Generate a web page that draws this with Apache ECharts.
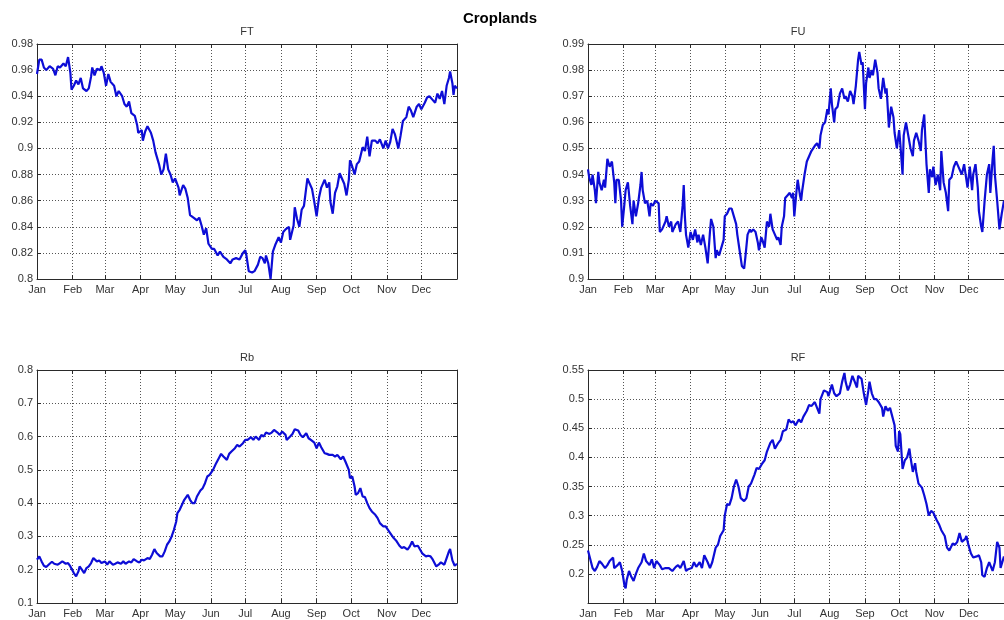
<!DOCTYPE html>
<html>
<head>
<meta charset="utf-8">
<script src="https://cdn.jsdelivr.net/npm/echarts@6/dist/echarts.min.js"></script>
<style>
html,body{margin:0;padding:0;background:#fff;}
#chart{width:1004px;height:620px;}
</style>
</head>
<body>
<div id="chart"></div>
<script>
var monthStarts = [0,31,59,90,120,151,181,212,243,273,304,334];
var monthNames = ['Jan','Feb','Mar','Apr','May','Jun','Jul','Aug','Sep','Oct','Nov','Dec'];
var panelTitles = ['FT','FU','Rb','RF'];

var ftData = [[0,0.957],[2,0.968],[4,0.968],[6,0.962],[8,0.960],[11,0.963],[14,0.961],[16,0.956],[18,0.963],[20,0.962],[23,0.965],[25,0.963],[27,0.970],[29,0.958],[30,0.945],[32,0.948],[34,0.952],[36,0.949],[38,0.954],[40,0.946],[43,0.944],[45,0.946],[47,0.955],[48,0.962],[50,0.956],[52,0.961],[55,0.960],[56,0.963],[58,0.958],[60,0.948],[62,0.957],[64,0.951],[67,0.948],[69,0.940],[71,0.944],[74,0.940],[76,0.934],[78,0.932],[80,0.936],[82,0.927],[85,0.925],[87,0.918],[88,0.912],[91,0.914],[92,0.906],[94,0.913],[96,0.917],[99,0.912],[101,0.906],[103,0.897],[106,0.888],[108,0.880],[110,0.884],[112,0.896],[114,0.884],[116,0.880],[118,0.874],[120,0.877],[123,0.870],[124,0.864],[127,0.872],[129,0.869],[131,0.862],[133,0.849],[136,0.847],[139,0.845],[141,0.847],[143,0.841],[145,0.834],[147,0.839],[149,0.827],[152,0.823],[154,0.823],[157,0.818],[159,0.821],[162,0.817],[165,0.815],[168,0.812],[170,0.815],[173,0.816],[176,0.815],[179,0.820],[181,0.822],[182,0.818],[184,0.806],[187,0.805],[189,0.806],[192,0.811],[194,0.817],[196,0.816],[198,0.812],[199,0.818],[201,0.812],[203,0.800],[205,0.821],[207,0.826],[210,0.832],[212,0.828],[214,0.836],[216,0.838],[219,0.840],[220,0.830],[223,0.841],[224,0.855],[226,0.846],[228,0.840],[230,0.853],[232,0.856],[235,0.877],[237,0.873],[239,0.869],[241,0.859],[243,0.848],[245,0.862],[247,0.870],[250,0.876],[252,0.870],[254,0.874],[255,0.859],[257,0.850],[259,0.866],[261,0.871],[263,0.881],[265,0.877],[267,0.873],[269,0.864],[271,0.876],[272,0.891],[274,0.886],[276,0.880],[278,0.888],[280,0.890],[283,0.901],[285,0.898],[287,0.909],[289,0.894],[291,0.906],[294,0.906],[296,0.904],[298,0.907],[301,0.900],[303,0.906],[305,0.900],[307,0.905],[309,0.915],[311,0.911],[314,0.900],[316,0.910],[318,0.921],[321,0.924],[323,0.932],[325,0.929],[327,0.924],[330,0.932],[332,0.934],[334,0.930],[337,0.935],[339,0.939],[341,0.940],[344,0.937],[346,0.935],[348,0.942],[350,0.938],[352,0.944],[354,0.934],[356,0.948],[358,0.954],[359,0.959],[361,0.950],[362,0.941],[363,0.948],[365,0.946]];

var fuData = [[0,0.942],[1,0.939],[3,0.936],[4,0.940],[6,0.934],[7,0.929],[9,0.941],[10,0.937],[12,0.934],[14,0.938],[15,0.935],[17,0.946],[19,0.943],[21,0.945],[23,0.937],[24,0.929],[25,0.938],[27,0.938],[29,0.930],[30,0.920],[32,0.929],[33,0.934],[35,0.937],[37,0.928],[39,0.921],[40,0.930],[42,0.924],[44,0.929],[46,0.936],[47,0.941],[48,0.934],[50,0.929],[52,0.930],[54,0.924],[55,0.929],[57,0.928],[59,0.930],[62,0.929],[63,0.918],[65,0.919],[68,0.922],[69,0.924],[71,0.920],[73,0.922],[74,0.918],[77,0.921],[79,0.922],[81,0.918],[83,0.928],[84,0.936],[85,0.924],[86,0.917],[88,0.912],[90,0.918],[92,0.915],[94,0.919],[96,0.914],[97,0.917],[99,0.913],[101,0.917],[103,0.912],[105,0.906],[107,0.918],[108,0.923],[110,0.920],[112,0.908],[113,0.911],[115,0.909],[117,0.912],[119,0.915],[120,0.924],[122,0.925],[124,0.927],[126,0.927],[128,0.924],[130,0.921],[131,0.917],[133,0.911],[135,0.905],[137,0.904],[138,0.908],[140,0.917],[142,0.919],[143,0.918],[145,0.919],[147,0.918],[149,0.914],[150,0.911],[152,0.916],[153,0.915],[155,0.912],[157,0.922],[159,0.920],[160,0.925],[162,0.919],[164,0.917],[166,0.915],[167,0.916],[169,0.913],[170,0.920],[172,0.924],[173,0.931],[175,0.932],[177,0.933],[179,0.931],[180,0.933],[181,0.924],[183,0.934],[184,0.938],[186,0.932],[187,0.930],[188,0.934],[190,0.940],[192,0.945],[194,0.947],[196,0.949],[199,0.951],[201,0.952],[203,0.950],[204,0.955],[206,0.959],[208,0.960],[210,0.965],[211,0.963],[213,0.973],[214,0.967],[216,0.960],[217,0.965],[219,0.966],[221,0.971],[223,0.973],[225,0.969],[226,0.970],[228,0.968],[230,0.972],[232,0.970],[233,0.967],[235,0.974],[237,0.984],[238,0.987],[240,0.982],[241,0.983],[243,0.965],[244,0.975],[246,0.981],[247,0.977],[249,0.980],[250,0.978],[252,0.984],[254,0.979],[255,0.973],[257,0.969],[259,0.977],[261,0.971],[262,0.973],[264,0.958],[266,0.966],[268,0.962],[269,0.956],[271,0.950],[273,0.957],[274,0.952],[276,0.940],[277,0.955],[279,0.960],[281,0.955],[283,0.950],[285,0.947],[286,0.953],[288,0.956],[290,0.953],[292,0.949],[293,0.957],[295,0.963],[297,0.944],[299,0.933],[300,0.942],[302,0.939],[303,0.943],[305,0.936],[307,0.940],[309,0.934],[310,0.949],[312,0.937],[314,0.933],[316,0.926],[317,0.938],[319,0.939],[321,0.943],[323,0.945],[324,0.944],[326,0.942],[328,0.940],[330,0.944],[331,0.941],[333,0.935],[335,0.943],[337,0.934],[338,0.940],[340,0.944],[342,0.935],[343,0.926],[345,0.920],[346,0.918],[348,0.930],[350,0.940],[352,0.944],[353,0.933],[355,0.946],[356,0.951],[357,0.940],[359,0.930],[361,0.919],[363,0.925],[365,0.930]];

var rbData = [[0,0.230],[2,0.240],[4,0.225],[6,0.212],[8,0.208],[11,0.218],[13,0.224],[15,0.218],[18,0.215],[20,0.220],[22,0.225],[25,0.218],[27,0.220],[29,0.210],[30,0.215],[32,0.190],[34,0.180],[36,0.195],[37,0.210],[39,0.200],[41,0.190],[43,0.205],[45,0.210],[47,0.220],[49,0.235],[52,0.225],[54,0.228],[56,0.220],[59,0.225],[61,0.215],[63,0.225],[66,0.215],[68,0.218],[70,0.222],[73,0.218],[75,0.225],[77,0.218],[80,0.225],[82,0.222],[84,0.232],[87,0.225],[89,0.222],[91,0.230],[93,0.228],[96,0.235],[98,0.232],[100,0.245],[102,0.262],[104,0.250],[107,0.240],[109,0.240],[111,0.255],[113,0.275],[115,0.285],[117,0.300],[119,0.320],[121,0.345],[122,0.370],[124,0.380],[126,0.395],[128,0.410],[131,0.425],[133,0.410],[135,0.400],[137,0.400],[139,0.420],[142,0.438],[144,0.445],[146,0.460],[148,0.480],[150,0.485],[153,0.500],[155,0.515],[158,0.535],[160,0.548],[162,0.540],[165,0.530],[167,0.548],[169,0.555],[172,0.565],[174,0.575],[176,0.570],[179,0.580],[181,0.590],[183,0.590],[186,0.598],[188,0.590],[190,0.600],[193,0.590],[195,0.605],[197,0.600],[199,0.612],[202,0.608],[204,0.612],[206,0.620],[209,0.612],[211,0.605],[213,0.615],[216,0.605],[217,0.590],[220,0.600],[222,0.608],[224,0.622],[227,0.618],[229,0.605],[231,0.598],[234,0.610],[236,0.595],[238,0.590],[241,0.582],[243,0.565],[245,0.582],[247,0.568],[250,0.550],[252,0.548],[254,0.545],[257,0.545],[259,0.540],[261,0.545],[264,0.532],[266,0.540],[268,0.525],[271,0.500],[272,0.475],[274,0.480],[276,0.450],[277,0.425],[279,0.430],[281,0.445],[283,0.420],[285,0.418],[287,0.400],[289,0.385],[291,0.375],[294,0.365],[296,0.355],[298,0.340],[301,0.330],[303,0.330],[305,0.320],[308,0.305],[310,0.295],[312,0.288],[315,0.272],[317,0.265],[319,0.268],[322,0.260],[324,0.270],[326,0.285],[328,0.270],[331,0.272],[333,0.260],[335,0.248],[338,0.240],[340,0.242],[342,0.240],[344,0.230],[347,0.210],[349,0.215],[351,0.222],[354,0.215],[356,0.235],[358,0.255],[359,0.262],[361,0.228],[363,0.212],[365,0.218]];

var rfData = [[0,0.240],[2,0.225],[4,0.210],[6,0.205],[8,0.212],[10,0.222],[12,0.218],[15,0.210],[17,0.215],[19,0.222],[22,0.228],[23,0.210],[26,0.215],[28,0.220],[30,0.205],[32,0.180],[33,0.175],[34,0.190],[36,0.205],[38,0.195],[40,0.188],[42,0.200],[44,0.210],[47,0.220],[49,0.235],[51,0.222],[54,0.215],[56,0.225],[58,0.210],[60,0.222],[63,0.215],[65,0.208],[68,0.210],[71,0.210],[74,0.205],[77,0.212],[79,0.215],[81,0.210],[84,0.222],[86,0.205],[88,0.208],[91,0.210],[93,0.220],[95,0.212],[98,0.220],[100,0.210],[102,0.232],[105,0.220],[107,0.210],[109,0.220],[112,0.245],[114,0.250],[116,0.265],[119,0.275],[120,0.300],[122,0.320],[124,0.318],[126,0.330],[128,0.350],[130,0.362],[132,0.350],[134,0.330],[137,0.325],[139,0.330],[141,0.350],[143,0.355],[146,0.370],[148,0.382],[150,0.380],[153,0.390],[155,0.395],[157,0.410],[160,0.425],[162,0.430],[164,0.415],[167,0.425],[169,0.430],[171,0.445],[174,0.448],[176,0.465],[178,0.460],[180,0.462],[182,0.455],[185,0.465],[187,0.460],[189,0.470],[192,0.480],[194,0.490],[196,0.488],[199,0.495],[201,0.485],[203,0.475],[204,0.500],[207,0.515],[210,0.512],[211,0.505],[214,0.525],[216,0.510],[218,0.505],[221,0.510],[223,0.530],[225,0.545],[226,0.530],[228,0.515],[230,0.525],[232,0.540],[234,0.530],[236,0.520],[237,0.540],[240,0.535],[242,0.510],[244,0.490],[246,0.515],[247,0.530],[249,0.510],[251,0.500],[253,0.500],[255,0.495],[258,0.485],[259,0.470],[261,0.488],[263,0.480],[265,0.485],[267,0.470],[269,0.455],[270,0.420],[272,0.410],[273,0.445],[274,0.440],[276,0.380],[278,0.395],[280,0.400],[282,0.415],[283,0.400],[285,0.375],[287,0.390],[288,0.375],[290,0.355],[293,0.348],[295,0.335],[297,0.320],[299,0.300],[301,0.308],[303,0.305],[306,0.292],[308,0.285],[310,0.275],[313,0.265],[315,0.245],[317,0.240],[320,0.252],[322,0.250],[324,0.255],[326,0.270],[328,0.255],[331,0.260],[332,0.265],[334,0.248],[336,0.235],[338,0.228],[341,0.230],[343,0.232],[345,0.220],[346,0.198],[348,0.195],[350,0.210],[352,0.220],[353,0.215],[355,0.205],[357,0.220],[359,0.255],[361,0.245],[362,0.210],[365,0.230]];

var yMins = [0.8, 0.9, 0.1, 0.15];
var yMaxs = [0.98, 0.99, 0.8, 0.55];
var yIntervals = [0.02, 0.01, 0.1, 0.05];
var yHiddenLabels = [null, null, null, 0.15];
var allData = [ftData, fuData, rbData, rfData];

var grids = [
  {left: 37, top: 44, width: 420, height: 235},
  {left: 588, top: 44, width: 420, height: 235},
  {left: 37, top: 370, width: 420, height: 233},
  {left: 588, top: 370, width: 420, height: 233}
];

var FONT = 'Liberation Sans, Arial, Helvetica, sans-serif';
var AX = '#2a2a2a';
var GRIDC = '#555';
var TXT = '#333';

var xAxes = [], yAxes = [], series = [], titles = [];
titles.push({text: 'Croplands', left: 500, top: 11, padding: 0, textAlign: 'center',
  textStyle: {fontFamily: FONT, fontSize: 15, fontWeight: 'bold', color: '#000'}});

for (var i = 0; i < 4; i++) {
  var g = grids[i];
  titles.push({text: panelTitles[i], left: g.left + g.width / 2, top: g.top - 18, padding: 0, textAlign: 'center',
    textStyle: {fontFamily: FONT, fontSize: 11, fontWeight: 'normal', color: TXT}});
  xAxes.push({
    type: 'value', gridIndex: i, min: 0, max: 365, position: 'bottom',
    axisLine: {show: true, onZero: false, lineStyle: {color: AX, width: 1}},
    axisTick: {show: true, inside: true, length: 4, customValues: monthStarts, lineStyle: {color: AX}},
    axisLabel: {show: true, customValues: monthStarts, margin: 5, color: TXT, fontFamily: FONT, fontSize: 11,
      formatter: function (v) { var k = monthStarts.indexOf(Math.round(v)); return k >= 0 ? monthNames[k] : ''; }},
    splitLine: {show: true, lineStyle: {color: GRIDC, width: 1, type: [1, 2]}}
  });
  xAxes.push({
    type: 'value', gridIndex: i, min: 0, max: 365, position: 'top',
    axisLine: {show: true, onZero: false, lineStyle: {color: AX, width: 1}},
    axisTick: {show: true, inside: true, length: 4, customValues: monthStarts, lineStyle: {color: AX}},
    axisLabel: {show: false},
    splitLine: {show: false}
  });
  (function (idx) {
    yAxes.push({
      type: 'value', gridIndex: idx, min: yMins[idx], max: yMaxs[idx], interval: yIntervals[idx], position: 'left',
      axisLine: {show: true, onZero: false, lineStyle: {color: AX, width: 1}},
      axisTick: {show: true, inside: true, length: 4, lineStyle: {color: AX}},
      axisLabel: {show: true, margin: 4, color: TXT, fontFamily: FONT, fontSize: 11,
        formatter: function (v) {
          if (yHiddenLabels[idx] !== null && Math.abs(v - yHiddenLabels[idx]) < 1e-9) return '';
          return String(parseFloat(v.toFixed(4)));
        }},
      splitLine: {show: true, lineStyle: {color: GRIDC, width: 1, type: [1, 2]}}
    });
    yAxes.push({
      type: 'value', gridIndex: idx, min: yMins[idx], max: yMaxs[idx], interval: yIntervals[idx], position: 'right',
      axisLine: {show: true, onZero: false, lineStyle: {color: AX, width: 1}},
      axisTick: {show: true, inside: true, length: 4, lineStyle: {color: AX}},
      axisLabel: {show: false},
      splitLine: {show: false}
    });
  })(i);
  series.push({
    type: 'line', xAxisIndex: i * 2, yAxisIndex: i * 2, data: allData[i],
    showSymbol: false, symbol: 'none', smooth: false, clip: true,
    lineStyle: {color: '#0d0dd6', width: 2.2},
    animation: false
  });
}

var chart = echarts.init(document.getElementById('chart'), null, {renderer: 'canvas'});
chart.setOption({
  backgroundColor: '#fff',
  animation: false,
  title: titles,
  grid: grids,
  xAxis: xAxes,
  yAxis: yAxes,
  series: series
});
</script>
</body>
</html>
